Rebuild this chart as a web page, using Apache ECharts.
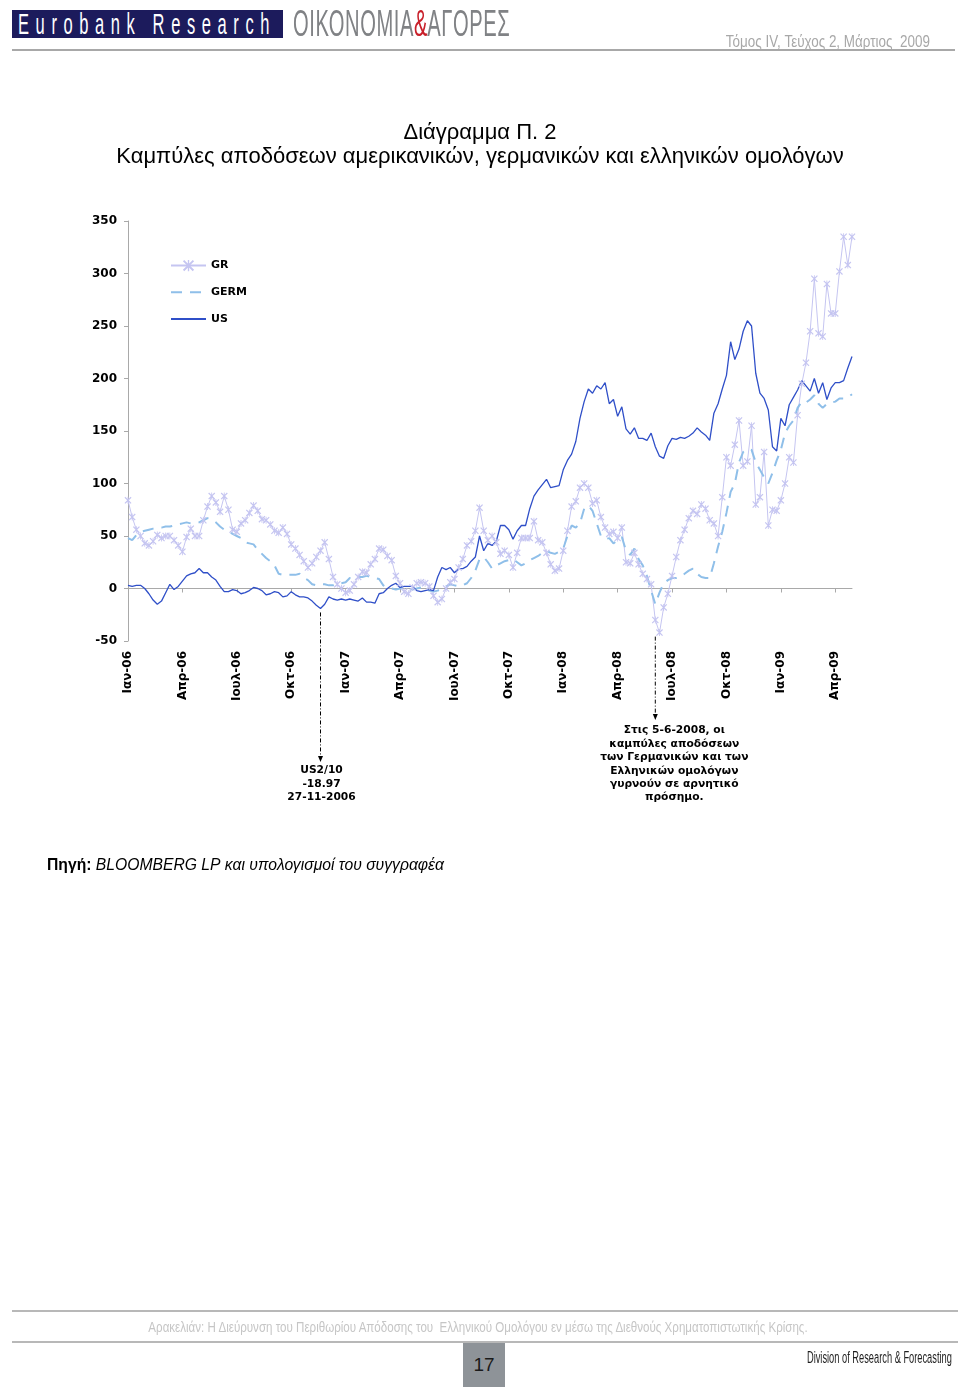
<!DOCTYPE html>
<html><head><meta charset="utf-8">
<script src="https://cdn.jsdelivr.net/npm/echarts@6/dist/echarts.min.js"></script>
<style>
body{margin:0;background:#fff;}
#page{position:relative;width:960px;height:1390px;overflow:hidden;background:#fff;}
#chart{position:absolute;left:0;top:0;width:960px;height:1390px;}
.abs{position:absolute;white-space:nowrap;font-family:"Liberation Sans",Arial,sans-serif;}
</style>
</head><body>
<div id="page">
<div id="chart"></div>
<div class="abs" style="left:12px;top:10px;width:271px;height:28px;background:#1c1b5c;overflow:hidden;">
  <span class="abs" style="left:6px;top:-3px;font-size:30px;color:#fff;letter-spacing:12px;transform:scaleX(0.55);transform-origin:left top;">Eurobank Research</span>
</div>
<span class="abs" style="left:293px;top:3px;font-size:36px;color:#808285;letter-spacing:1px;transform:scaleX(0.56);transform-origin:left top;">ΟΙΚΟΝΟΜΙΑ<span style="color:#c8202a;letter-spacing:0">&amp;</span>ΑΓΟΡΕΣ</span>
<span class="abs" style="right:30px;top:33px;font-size:16px;color:#a8a8a8;transform:scaleX(0.84);transform-origin:right top;">Τόμος IV, Τεύχος 2, Μάρτιος&nbsp; 2009</span>
<div class="abs" style="left:12px;top:49px;width:943px;height:2px;background:#a8a8a8;"></div>

<div class="abs" style="left:12px;top:1310px;width:946px;height:2px;background:#b8b8b8;"></div>
<span class="abs" style="left:478px;top:1319px;font-size:14px;color:#c6c6c6;transform:translateX(-50%) scaleX(0.826);transform-origin:center top;">Αρακελιάν: Η Διεύρυνση του Περιθωρίου Απόδοσης του&nbsp; Ελληνικού Ομολόγου εν μέσω της Διεθνούς Χρηματοπιστωτικής Κρίσης.</span>
<div class="abs" style="left:12px;top:1341px;width:946px;height:2px;background:#b8b8b8;"></div>
<div class="abs" style="left:463px;top:1343px;width:42px;height:44px;background:#8e9398;text-align:center;line-height:44px;font-size:19px;color:#1a1a1a;">17</div>
<span class="abs" style="right:8px;top:1349px;font-size:16px;color:#1e1e1e;transform:scaleX(0.58);transform-origin:right top;">Division of Research &amp; Forecasting</span>
</div>
<script>
// ---- data ----
const tickLabels = ['Ιαν-06','Απρ-06','Ιουλ-06','Οκτ-06','Ιαν-07','Απρ-07','Ιουλ-07','Οκτ-07','Ιαν-08','Απρ-08','Ιουλ-08','Οκτ-08','Ιαν-09','Απρ-09'];
const weeks = [];
(function(){const d=new Date(Date.UTC(2006,0,2));for(let i=0;i<174;i++){weeks.push(d.toISOString().slice(0,10));d.setUTCDate(d.getUTCDate()+7);}})();

const usValues = [3,2,3,3,0,-5,-11,-15,-12,-4,
4,-1,2,7,12,14,15,19,15,15,
11,8,2,-3,-3,-1,-2,-5,-4,-2,
1,0,-2,-6,-5,-3,-4,-8,-7,-3,
-6,-8,-8,-9,-12,-16,-19,-15,-8,-10,
-11,-10,-11,-10,-11,-12,-9,-13,-13,-14,
-5,-4,0,3,5,1,2,2,2,-2,
-3,-2,-1,-2,11,20,18,20,15,19,
19,21,26,30,50,36,43,41,45,60,
60,56,47,55,60,60,76,88,94,99,
104,96,97,98,113,122,128,140,162,178,
190,186,193,190,196,176,180,164,173,152,
147,153,143,143,141,148,135,126,124,136,
143,142,144,143,145,148,153,149,146,141,
167,176,190,203,235,218,228,245,255,250,
205,186,181,170,135,131,162,155,175,182,
189,198,193,188,200,186,196,180,191,196,
196,198,210,221];

const germValues = [48,46,51,54,55,56,57,58,58,59,
59,60,61,62,63,62,62,63,65,67,
66,63,59,56,54,52,50,48,44,43,
42,37,33,29,26,22,14,13,13,13,
13,14,10,8,4,3,4,4,3,3,
5,5,6,10,10,11,11,12,11,10,
9,3,1,0,-1,0,1,0,-1,0,
1,0,-2,-3,-2,0,2,4,3,2,
3,5,10,17,28,30,25,19,22,24,
26,27,28,25,22,24,27,29,31,34,
36,34,33,35,38,50,60,58,62,76,
79,74,62,50,47,48,43,46,49,36,
32,38,28,22,12,-2,-15,-4,5,8,
10,10,11,14,17,19,14,11,10,10,
24,40,54,72,92,100,120,130,133,132,
120,113,106,100,110,122,132,148,155,160,
172,178,177,180,184,176,172,176,177,178,
181,181,182,185];

const grValues = [84,68,56,50,43,41,45,51,48,50,
50,46,41,35,49,57,50,50,65,78,
88,82,73,88,75,56,54,62,65,72,
79,74,66,65,61,55,53,58,52,42,
38,32,26,20,24,30,36,44,28,11,
4,0,-4,-2,4,11,16,15,23,28,
38,37,31,27,12,5,-3,-5,1,5,
6,5,2,-7,-13,-10,0,6,9,20,
28,41,45,55,77,55,46,50,44,33,
36,32,20,34,48,48,48,64,46,44,
34,23,17,19,36,55,78,83,96,100,
96,81,84,68,58,52,54,48,58,25,
24,34,23,14,9,4,-30,-42,-18,-5,
12,30,46,56,67,74,71,80,76,65,
62,50,87,125,117,137,160,117,121,155,
80,87,130,60,75,74,84,100,125,120,
165,195,215,245,295,243,240,290,262,262,
302,335,308,335];

const usNoteIndex = 46;
const grNoteIndex = 126;
const usNote = 'US2/10\n-18.97\n27-11-2006';
const grNote = 'Στις 5-6-2008, οι\nκαμπύλες αποδόσεων\nτων Γερμανικών και των\nΕλληνικών ομολόγων\nγυρνούν σε αρνητικό\nπρόσημο.';

// ---- chart ----
const GR_C = '#c5c5f1', GERM_C = '#8fbfe9', US_C = '#2f4fc8', AX_C = '#a9a9a9';
const xMark = 'path://M0,1.2L1.2,0L5,3.8L8.8,0L10,1.2L6.2,5L10,8.8L8.8,10L5,6.2L1.2,10L0,8.8L3.8,5Z M4.4,0L5.6,0L5.6,10L4.4,10Z';
const chart = echarts.init(document.getElementById('chart'));
const lblFont = {fontFamily:'DejaVu Sans', fontWeight:'bold', fontSize:12, color:'#000'};
const titleFont = {fontFamily:'Liberation Sans', fontSize:22, fontWeight:'normal', color:'#000'};
chart.setOption({
  animation:false,
  title:[
    {text:'Διάγραμμα Π. 2', left:'center', top:122, padding:0, textStyle:titleFont},
    {text:'Καμπύλες αποδόσεων αμερικανικών, γερμανικών και ελληνικών ομολόγων', left:'center', top:146, padding:0, textStyle:titleFont}
  ],
  legend:{orient:'vertical', left:170, top:260, padding:0, itemWidth:35, itemHeight:14, itemGap:15.5,
    textStyle:{fontFamily:'DejaVu Sans', fontWeight:'bold', fontSize:11, color:'#000'},
    data:['GR', {name:'GERM', itemStyle:{opacity:0}}, {name:'US', itemStyle:{opacity:0}}]},
  grid:{left:128, right:108, top:221, bottom:749, outerBoundsMode:'none', containLabel:false},
  xAxis:[
    {type:'category', data:weeks, boundaryGap:false,
     axisLine:{show:false, onZero:false}, axisTick:{show:false}, splitLine:{show:false},
     axisLabel:Object.assign({interval:12, rotate:90, margin:10,
       formatter:(v,i)=>tickLabels[Math.round(i/13)]||''}, lblFont)},
    {type:'category', data:weeks, boundaryGap:false, position:'bottom',
     axisLine:{show:true, onZero:true, lineStyle:{color:AX_C, width:1}},
     axisTick:{show:true, interval:12, length:4, lineStyle:{color:AX_C}},
     axisLabel:{show:false}, splitLine:{show:false}}
  ],
  yAxis:{type:'value', min:-50, max:350, interval:50,
    axisLine:{show:true, lineStyle:{color:AX_C}}, axisTick:{show:true, length:4, lineStyle:{color:AX_C}},
    splitLine:{show:false}, axisLabel:Object.assign({margin:11}, lblFont)},
  series:[
    {name:'GR', type:'line', data:grValues, symbol:xMark, symbolSize:7, showSymbol:true, showAllSymbol:true,
     itemStyle:{color:GR_C}, lineStyle:{color:GR_C, width:1}, silent:true, emphasis:{disabled:true}},
    {name:'GERM', type:'line', data:germValues, showSymbol:false, symbol:'none',
     itemStyle:{color:GERM_C}, lineStyle:{color:GERM_C, width:2, type:[11,8]}, silent:true, emphasis:{disabled:true}},
    {name:'US', type:'line', data:usValues, showSymbol:false, symbol:'none',
     itemStyle:{color:US_C}, lineStyle:{color:US_C, width:1.3}, silent:true, emphasis:{disabled:true}}
  ]
});

function arrow(xi, yStart, yEnd){
  return [
    {type:'line', shape:{x1:xi, y1:yStart, x2:xi, y2:yEnd-5}, style:{stroke:'#000', lineWidth:1, lineDash:[4,2,1,2]}, silent:true},
    {type:'polygon', shape:{points:[[xi-2.5,yEnd-6],[xi+2.5,yEnd-6],[xi,yEnd]]}, style:{fill:'#000'}, silent:true}
  ];
}
const xUs = chart.convertToPixel({xAxisIndex:0}, usNoteIndex);
const yUs = chart.convertToPixel({yAxisIndex:0}, usValues[usNoteIndex]);
const xGr = chart.convertToPixel({xAxisIndex:0}, grNoteIndex);
const yGr = chart.convertToPixel({yAxisIndex:0}, grValues[grNoteIndex+1]);
const noteFont = {fill:'#000', fontFamily:'DejaVu Sans', fontWeight:'bold', fontSize:10.7, align:'center', verticalAlign:'top', lineHeight:13.4};
chart.setOption({graphic:[].concat(
  arrow(xUs, yUs+4, 762),
  arrow(xGr, yGr+4, 720),
  [
   {type:'text', x:xUs+1, y:764, style:Object.assign({text:usNote}, noteFont), silent:true},
   {type:'text', x:xGr+19, y:724, style:Object.assign({text:grNote}, noteFont), silent:true},
   {type:'text', x:47, y:858, silent:true, style:{text:'{b|Πηγή:} {i|BLOOMBERG LP και υπολογισμοί του συγγραφέα}', fill:'#000', fontFamily:'Liberation Sans', fontSize:15.7,
     rich:{b:{fontWeight:'bold', fontFamily:'Liberation Sans', fontSize:15.7, fill:'#000'}, i:{fontStyle:'italic', fontFamily:'Liberation Sans', fontSize:15.7, fill:'#000'}}}}
  ])});
</script>
</body></html>
